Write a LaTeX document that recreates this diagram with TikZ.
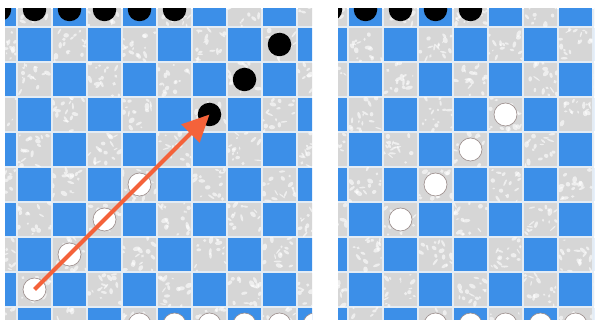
\documentclass[tikz,border=0pt]{standalone}
\usetikzlibrary{arrows.meta}
\definecolor{sqblue}{HTML}{3C8FE8}
\definecolor{sqgray}{HTML}{D6D6D6}
\definecolor{gridc}{HTML}{E4ECF4}
\definecolor{arrowc}{HTML}{F4623A}
\definecolor{rimc}{HTML}{9A8C8A}
\tikzset{
  blackpc/.style={circle, fill=black, minimum size=23.5pt, inner sep=0pt},
  whitepc/.style={circle, fill=white, draw=rimc, line width=0.6pt, minimum size=23pt, inner sep=0pt},
  movearrow/.style={draw=arrowc, line width=4pt, -{Triangle[length=27pt,width=25pt,fill=arrowc]}},
}
\newcommand{\boardcells}[3]{% #1 = x origin, #2 = parity, #3 = last column
  \foreach \i in {-1,...,#3}{
    \foreach \j in {-1,...,8}{
      \pgfmathtruncatemacro\pp{mod(\i+\j+20+#2,2)}
      \pgfmathsetmacro\cx{#1+35*\i}
      \pgfmathsetmacro\cy{27+35*\j}
      \ifnum\pp=0
        \fill[sqblue] (\cx+0.6,\cy+0.6) rectangle (\cx+34.4,\cy+34.4);
      \else
        \begin{scope}
          \clip (\cx+0.6,\cy+0.6) rectangle (\cx+34.4,\cy+34.4);
          \fill[sqgray] (\cx+0.6,\cy+0.6) rectangle (\cx+34.4,\cy+34.4);
          \foreach \k in {1,...,16}{
            \pgfmathsetmacro\rx{\cx+1+33*rnd}
            \pgfmathsetmacro\ry{\cy+1+33*rnd}
            \pgfmathsetmacro\ra{1+3*rnd}
            \pgfmathsetmacro\rb{0.6+1.8*rnd}
            \pgfmathsetmacro\rr{180*rnd}
            \fill[white, opacity=0.6, rotate around={\rr:(\rx,\ry)}] (\rx,\ry) ellipse ({\ra} and {\rb});
          }
        \end{scope}
      \fi
    }
  }
}
\begin{document}
\begin{tikzpicture}[x=1pt, y=-1pt]
\pgfmathsetseed{7}
\useasboundingbox (0,0) rectangle (597,320);
\fill[white] (0,0) rectangle (597,320);

% ---------- left board ----------
\begin{scope}
  \clip (5,9) rectangle (312,320);
  \fill[gridc] (5,9) rectangle (312,320);
  \boardcells{17}{0}{8}
  \node[blackpc] (lb0) at (-0.5,9.5) {};
  \node[blackpc] (lb1) at (34.5,9.5) {};
  \node[blackpc] (lb2) at (69.5,9.5) {};
  \node[blackpc] (lb3) at (104.5,9.5) {};
  \node[blackpc] (lb4) at (139.5,9.5) {};
  \node[blackpc] (lb5) at (174.5,9.5) {};
  \node[blackpc] (lb6) at (279.5,44.5) {};
  \node[blackpc] (lb7) at (244.5,79.5) {};
  \node[blackpc] (lb8) at (209.5,114.5) {};
  \node[whitepc] (lw1) at (139.5,184.5) {};
  \node[whitepc] (lw2) at (104.5,219.5) {};
  \node[whitepc] (lw3) at (69.5,254.5) {};
  \node[whitepc] (lw4) at (34.5,289.5) {};
  \node[whitepc] (lw5) at (139.5,324.5) {};
  \node[whitepc] (lw6) at (174.5,324.5) {};
  \node[whitepc] (lw7) at (209.5,324.5) {};
  \node[whitepc] (lw8) at (244.5,324.5) {};
  \node[whitepc] (lw9) at (279.5,324.5) {};
  \node[whitepc] (lw10) at (314.5,324.5) {};
  \draw[movearrow] (lw4.center) -- (lb8.center);
\end{scope}

% ---------- right board ----------
\begin{scope}
  \clip (338,9) rectangle (594,320);
  \fill[gridc] (338,9) rectangle (594,320);
  \boardcells{348}{1}{7}
  \node[blackpc] (rb0) at (330.5,9.5) {};
  \node[blackpc] (rb1) at (365.5,9.5) {};
  \node[blackpc] (rb2) at (400.5,9.5) {};
  \node[blackpc] (rb3) at (435.5,9.5) {};
  \node[blackpc] (rb4) at (470.5,9.5) {};
  \node[whitepc] (rw1) at (505.5,114.5) {};
  \node[whitepc] (rw2) at (470.5,149.5) {};
  \node[whitepc] (rw3) at (435.5,184.5) {};
  \node[whitepc] (rw4) at (400.5,219.5) {};
  \node[whitepc] (rw5) at (435.5,324.5) {};
  \node[whitepc] (rw6) at (470.5,324.5) {};
  \node[whitepc] (rw7) at (505.5,324.5) {};
  \node[whitepc] (rw8) at (540.5,324.5) {};
  \node[whitepc] (rw9) at (575.5,324.5) {};
\end{scope}
\end{tikzpicture}
\end{document}
